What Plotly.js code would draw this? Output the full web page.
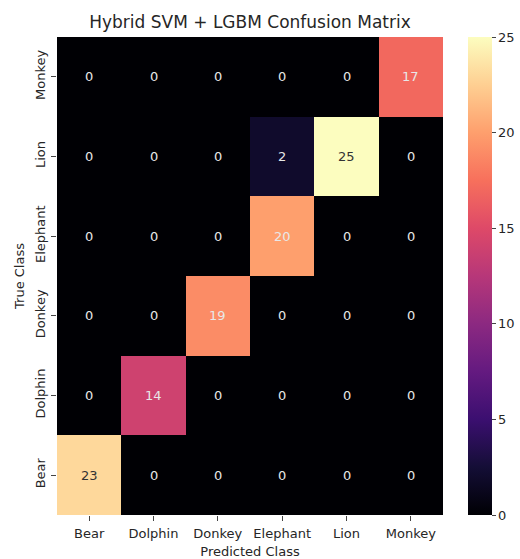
<!DOCTYPE html>
<html><head><meta charset="utf-8">
<script src="https://cdn.plot.ly/plotly-3.0.1.min.js"></script>
<style>html,body{margin:0;padding:0;background:#fff;}</style>
</head><body>
<div id="chart" style="width:520px;height:559px;"></div>
<script>
const predictedClasses = ["Bear","Dolphin","Donkey","Elephant","Lion","Monkey"];
const trueClasses = ["Bear","Dolphin","Donkey","Elephant","Lion","Monkey"];
// rows follow trueClasses order (bottom to top)
const rowBear     = [23, 0, 0, 0, 0, 0];
const rowDolphin  = [0, 14, 0, 0, 0, 0];
const rowDonkey   = [0, 0, 19, 0, 0, 0];
const rowElephant = [0, 0, 0, 20, 0, 0];
const rowLion     = [0, 0, 0, 2, 25, 0];
const rowMonkey   = [0, 0, 0, 0, 0, 17];
const matrix = [rowBear, rowDolphin, rowDonkey, rowElephant, rowLion, rowMonkey];
const colorbarTicks = [0, 5, 10, 15, 20, 25];

const magma = [
  [0.0,'#000004'],[0.1,'#140e36'],[0.2,'#3b0f70'],[0.3,'#641a80'],
  [0.4,'#8c2981'],[0.5,'#b73779'],[0.6,'#de4968'],[0.7,'#f7705c'],
  [0.8,'#fe9f6d'],[0.9,'#fecf92'],[1.0,'#fcfdbf']
];

const annotations = [];
matrix.forEach((row, i) => {
  row.forEach((v, j) => {
    annotations.push({
      x: predictedClasses[j], y: trueClasses[i], xref: 'x', yref: 'y',
      text: String(v), showarrow: false,
      font: {family: 'DejaVu Sans', size: 13, color: v >= 21 ? '#333333' : '#e8e8e8'}
    });
  });
});

const font = {family: 'DejaVu Sans', size: 13, color: '#262626'};

Plotly.newPlot('chart', [{
  type: 'heatmap',
  x: predictedClasses, y: trueClasses, z: matrix,
  zmin: 0, zmax: 25, colorscale: magma,
  xgap: 0, ygap: 0, hoverinfo: 'skip',
  colorbar: {
    x: 1.065, xanchor: 'left', xref: 'paper', xpad: 0, ypad: 0,
    y: 0.5, yanchor: 'middle', len: 1, lenmode: 'fraction',
    thickness: 24, outlinewidth: 0,
    ticks: 'outside', ticklen: 4, tickcolor: '#444', tickwidth: 1,
    tickvals: colorbarTicks, tickfont: {family: 'DejaVu Sans', size: 13, color: '#262626'}
  }
}], {
  width: 520, height: 559,
  margin: {l: 57, r: 77, t: 37, b: 44, autoexpand: false},
  paper_bgcolor: '#fff', plot_bgcolor: '#fff',
  font: font,
  title: {text: 'Hybrid SVM + LGBM Confusion Matrix', x: 250/520, xref: 'container', xanchor: 'center',
          yref: 'container', y: 1 - 22/559, yanchor: 'middle',
          font: {family: 'DejaVu Sans', size: 17, color: '#262626'}},
  xaxis: {
    title: {text: 'Predicted Class', font: font, standoff: 8},
    ticks: 'outside', ticklen: 5, tickcolor: '#444', showgrid: false, zeroline: false,
    showline: false, tickfont: font, automargin: false, ticklabelstandoff: 1
  },
  yaxis: {
    title: {text: 'True Class', font: font, standoff: 5},
    ticks: 'outside', ticklen: 5, tickcolor: '#444', showgrid: false, zeroline: false,
    showline: false, tickangle: -90, tickfont: font, automargin: false, ticklabelstandoff: 1
  },
  annotations: annotations
}, {displayModeBar: false, staticPlot: true});
</script>
</body></html>
